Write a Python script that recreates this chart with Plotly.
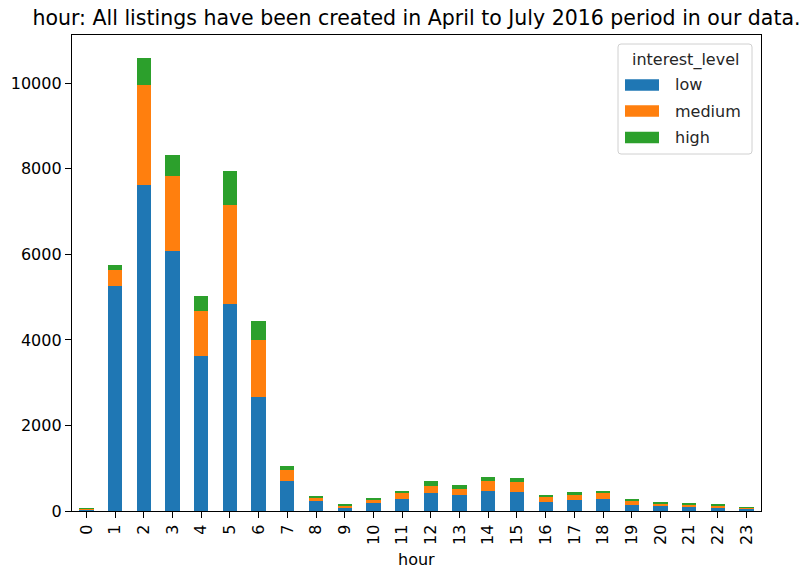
import plotly.graph_objects as go

hours = list(range(24))
hour_labels = [str(h) for h in hours]
low = [40, 5264, 7620, 6080, 3620, 4830, 2660, 700, 234, 86, 180, 288,
       420, 380, 467, 444, 210, 265, 288, 140, 117, 86, 78, 55]
medium = [20, 374, 2340, 1745, 1050, 2330, 1340, 265, 77, 38, 93, 125,
          172, 141, 234, 226, 117, 117, 125, 94, 54, 62, 39, 23]
high = [8, 117, 640, 505, 360, 790, 440, 85, 39, 24, 24, 54,
        109, 94, 86, 93, 55, 62, 54, 31, 39, 31, 31, 8]
y_ticks = [0, 2000, 4000, 6000, 8000, 10000]
y_tick_labels = [str(v) for v in y_ticks]

series = [("low", low, "#1f77b4"), ("medium", medium, "#ff7f0e"), ("high", high, "#2ca02c")]
font = "DejaVu Sans"

W, H = 809, 574
L, R, T, B = 72, 48, 35, 63
PW, PH = W - L - R, H - T - B


def px_x(px):
    return (px - L) / PW


def px_y(py):
    return (H - B - py) / PH


fig = go.Figure()
for name, vals, color in series:
    fig.add_trace(go.Bar(x=hours, y=vals, name=name, marker=dict(color=color, line=dict(width=0))))

totals = [a + b + c for a, b, c in zip(low, medium, high)]
ymax = max(totals) * 1.05

# legend (drawn as in matplotlib: rounded frame, wide patches)
shapes = []
annotations = []
x0, x1, y0, y1 = 618, 752, 44, 154
r = 3
rx, ry = r / PW, r / PH
X0, X1, Y0, Y1 = px_x(x0), px_x(x1), px_y(y1), px_y(y0)
path = (f"M {X0+rx},{Y0} L {X1-rx},{Y0} Q {X1},{Y0} {X1},{Y0+ry} "
        f"L {X1},{Y1-ry} Q {X1},{Y1} {X1-rx},{Y1} L {X0+rx},{Y1} Q {X0},{Y1} {X0},{Y1-ry} "
        f"L {X0},{Y0+ry} Q {X0},{Y0} {X0+rx},{Y0} Z")
shapes.append(dict(type="path", xref="paper", yref="paper", path=path,
                   fillcolor="rgba(255,255,255,0.8)", line=dict(color="#d0d0d0", width=1)))
annotations.append(dict(text="interest_level", xref="paper", yref="paper",
                        x=px_x((x0 + x1) / 2), y=px_y(59.5), xanchor="center", yanchor="middle",
                        showarrow=False, font=dict(family=font, size=16, color="#262626")))
rows = [85, 111, 137.5]
for (name, vals, color), cy in zip(series, rows):
    shapes.append(dict(type="rect", xref="paper", yref="paper",
                       x0=px_x(625), x1=px_x(659), y0=px_y(cy + 5.8), y1=px_y(cy - 5.8),
                       fillcolor=color, line=dict(width=0)))
    annotations.append(dict(text=name, xref="paper", yref="paper",
                            x=px_x(673), y=px_y(cy), xanchor="left", yanchor="middle",
                            showarrow=False, font=dict(family=font, size=16, color="#262626")))

annotations.append(dict(text="hour", xref="paper", yref="paper", x=0.5, y=px_y(559),
                        xanchor="center", yanchor="middle", showarrow=False,
                        font=dict(family=font, size=16, color="black")))

fig.update_layout(
    width=W, height=H,
    barmode="stack", bargap=0.5,
    plot_bgcolor="white", paper_bgcolor="white",
    margin=dict(l=L, r=R, t=T, b=B),
    font=dict(family=font, size=16, color="black"),
    title=dict(text="hour: All listings have been created in April to July 2016 period in our data.",
               x=0.5, xref="paper", xanchor="center", y=1 - 18 / H, yanchor="middle",
               font=dict(family=font, size=20.5, color="black")),
    showlegend=False,
    shapes=shapes,
    annotations=annotations,
    xaxis=dict(
        range=[-0.5, 23.5], tickmode="array", tickvals=hours, ticktext=hour_labels,
        tickangle=-90, ticks="outside", ticklen=6, tickcolor="black", tickwidth=1.2,
        showline=True, linecolor="black", linewidth=1.3, mirror=True, showgrid=False,
        zeroline=False, automargin=False,
    ),
    yaxis=dict(
        range=[0, ymax], tickmode="array", tickvals=y_ticks, ticktext=y_tick_labels,
        ticks="outside", ticklen=6, tickcolor="black", tickwidth=1.2,
        showline=True, linecolor="black", linewidth=1.3, mirror=True, showgrid=False,
        zeroline=False, automargin=False,
    ),
)

fig.write_html("out.html", config={"displayModeBar": False},
               post_script="document.body.style.margin='0';")
